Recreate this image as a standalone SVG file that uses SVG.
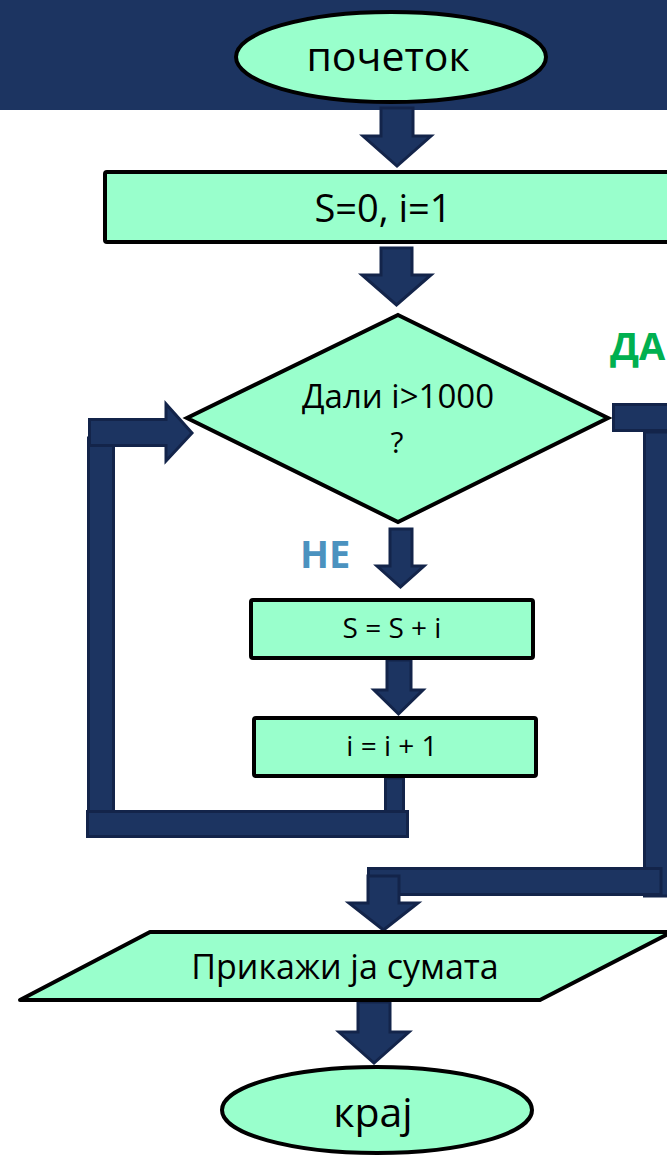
<svg xmlns="http://www.w3.org/2000/svg" width="667" height="1156" viewBox="0 0 667 1156">
<style>
.node{fill:#99FFCC;stroke:#000;stroke-width:4}
.conn{fill:#1C3461;stroke:#13244A;stroke-width:3}
.t{font-family:"Open Sans","Noto Sans",sans-serif;fill:#000;text-anchor:middle}
.lbl{font-family:"Open Sans","Noto Sans",sans-serif;font-weight:bold}
</style>
<rect x="0" y="0" width="667" height="110" fill="#1C3461"/>
<g id="connectors">
  <polygon class="conn" points="381,108 413,108 413,136 431,136 397,166 363,136 381,136"/>
  <polygon class="conn" points="381,248 412,248 412,275 431,275 396.5,305 362,275 381,275"/>
  <polygon class="conn" points="390,529 412,529 412,566 424,566 400.5,587 377,566 390,566"/>
  <polygon class="conn" points="387,660 411,660 411,690 423,690 398.5,714 374,690 387,690"/>
  <rect class="conn" x="88.5" y="438" width="25" height="398"/>
  <rect class="conn" x="385.5" y="778" width="18" height="34"/>
  <rect class="conn" x="87.5" y="811.5" width="320" height="25"/>
  <polygon class="conn" points="89.5,419.5 166,419.5 166,404 192,433 166,461 166,445.5 89.5,445.5"/>
  <rect class="conn" x="644.5" y="432" width="25" height="464"/>
  <rect class="conn" x="613.5" y="404.5" width="56" height="26"/>
  <rect class="conn" x="368.5" y="868.5" width="292.5" height="26"/>
  <polygon class="conn" points="368,876 399,876 399,903 418,903 383.5,930 349,903 368,903"/>
  <polygon class="conn" points="358,1002 390,1002 390,1032 409,1032 374,1063 339,1032 358,1032"/>
</g>
<g id="start">
  <ellipse class="node" cx="391" cy="57" rx="155" ry="45"/>
  <text class="t" x="388" y="71" font-size="41">почеток</text>
</g>
<g id="init">
  <rect class="node" x="105" y="172" width="575" height="70" rx="2"/>
  <text class="t" x="383" y="222" font-size="38">S=0, i=1</text>
</g>
<g id="decision">
  <polygon class="node" points="398,315 608,418 398,522 187,418"/>
  <text class="t" x="398" y="408" font-size="33">Дали i&gt;1000</text>
  <text class="t" x="397" y="453" font-size="30">?</text>
</g>
<g id="label-da">
  <text class="lbl" x="610" y="360" font-size="38" fill="#00B050">ДА</text>
</g>
<g id="label-ne">
  <text class="lbl" x="300" y="568" font-size="38" fill="#4B92BF">НЕ</text>
</g>
<g id="sum">
  <rect class="node" x="251" y="600" width="282" height="58" rx="2"/>
  <text class="t" x="392" y="638" font-size="28">S = S + i</text>
</g>
<g id="incr">
  <rect class="node" x="254" y="718" width="282" height="58" rx="2"/>
  <text class="t" x="392" y="756" font-size="28">i = i + 1</text>
</g>
<g id="output">
  <polygon class="node" points="150,932 672,932 540,1000 20,1000" stroke-linejoin="round"/>
  <text class="t" x="345" y="979" font-size="34">Прикажи ја сумата</text>
</g>
<g id="end">
  <ellipse class="node" cx="377" cy="1110" rx="155" ry="43"/>
  <text class="t" x="373" y="1127" font-size="41">крај</text>
</g>
</svg>
